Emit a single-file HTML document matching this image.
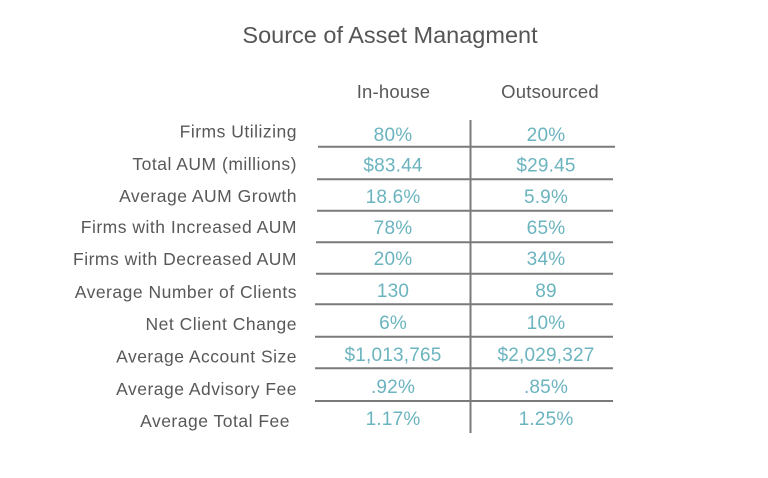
<!DOCTYPE html>
<html>
<head>
<meta charset="utf-8">
<style>
html,body{margin:0;padding:0;background:#fff;}
svg{display:block;}
text{font-family:"Liberation Sans",sans-serif;}
.lab{font-size:17.5px;fill:#585858;letter-spacing:0.5px;text-anchor:end;}
.val{font-size:19px;fill:#6bb4bf;letter-spacing:0.2px;text-anchor:middle;}
.hdr{font-size:18.5px;fill:#585858;letter-spacing:0.2px;text-anchor:middle;}
</style>
</head>
<body>
<svg width="768" height="478" viewBox="0 0 768 478" xmlns="http://www.w3.org/2000/svg">
<rect width="768" height="478" fill="#fff"/>
<text x="390" y="43" style="font-size:23.5px;fill:#555;text-anchor:middle;">Source of Asset Managment</text>
<text class="hdr" x="393.5" y="98">In-house</text>
<text class="hdr" x="550" y="98">Outsourced</text>

<g stroke="#7a7a7a" stroke-width="2">
<line x1="470.5" y1="120" x2="470.5" y2="433"/>
<line x1="318" y1="146.7" x2="615" y2="146.7"/>
<line x1="317" y1="179.3" x2="613" y2="179.3"/>
<line x1="317" y1="210.7" x2="613" y2="210.7"/>
<line x1="316" y1="242.3" x2="613" y2="242.3"/>
<line x1="316" y1="273.7" x2="613" y2="273.7"/>
<line x1="315" y1="304.3" x2="613" y2="304.3"/>
<line x1="315" y1="336.7" x2="613" y2="336.7"/>
<line x1="315" y1="368.3" x2="613" y2="368.3"/>
<line x1="315" y1="401" x2="613" y2="401"/>
</g>

<text class="lab" x="297" y="137.5">Firms Utilizing</text>
<text class="lab" x="297" y="170">Total AUM (millions)</text>
<text class="lab" x="297" y="202">Average AUM Growth</text>
<text class="lab" x="297" y="233">Firms with Increased AUM</text>
<text class="lab" x="297" y="265">Firms with Decreased AUM</text>
<text class="lab" x="297" y="298">Average Number of Clients</text>
<text class="lab" x="297" y="330">Net Client Change</text>
<text class="lab" x="297" y="362.5">Average Account Size</text>
<text class="lab" x="297" y="395">Average Advisory Fee</text>
<text class="lab" x="290" y="427">Average Total Fee</text>

<text class="val" x="393" y="141">80%</text>
<text class="val" x="546" y="141">20%</text>
<text class="val" x="393" y="171.5">$83.44</text>
<text class="val" x="546" y="171.5">$29.45</text>
<text class="val" x="393" y="203">18.6%</text>
<text class="val" x="546" y="203">5.9%</text>
<text class="val" x="393" y="234">78%</text>
<text class="val" x="546" y="234">65%</text>
<text class="val" x="393" y="265">20%</text>
<text class="val" x="546" y="265">34%</text>
<text class="val" x="393" y="297">130</text>
<text class="val" x="546" y="297">89</text>
<text class="val" x="393" y="329">6%</text>
<text class="val" x="546" y="329">10%</text>
<text class="val" x="393" y="361">$1,013,765</text>
<text class="val" x="546" y="361">$2,029,327</text>
<text class="val" x="393" y="393">.92%</text>
<text class="val" x="546" y="393">.85%</text>
<text class="val" x="393" y="425">1.17%</text>
<text class="val" x="546" y="425">1.25%</text>
</svg>
</body>
</html>
